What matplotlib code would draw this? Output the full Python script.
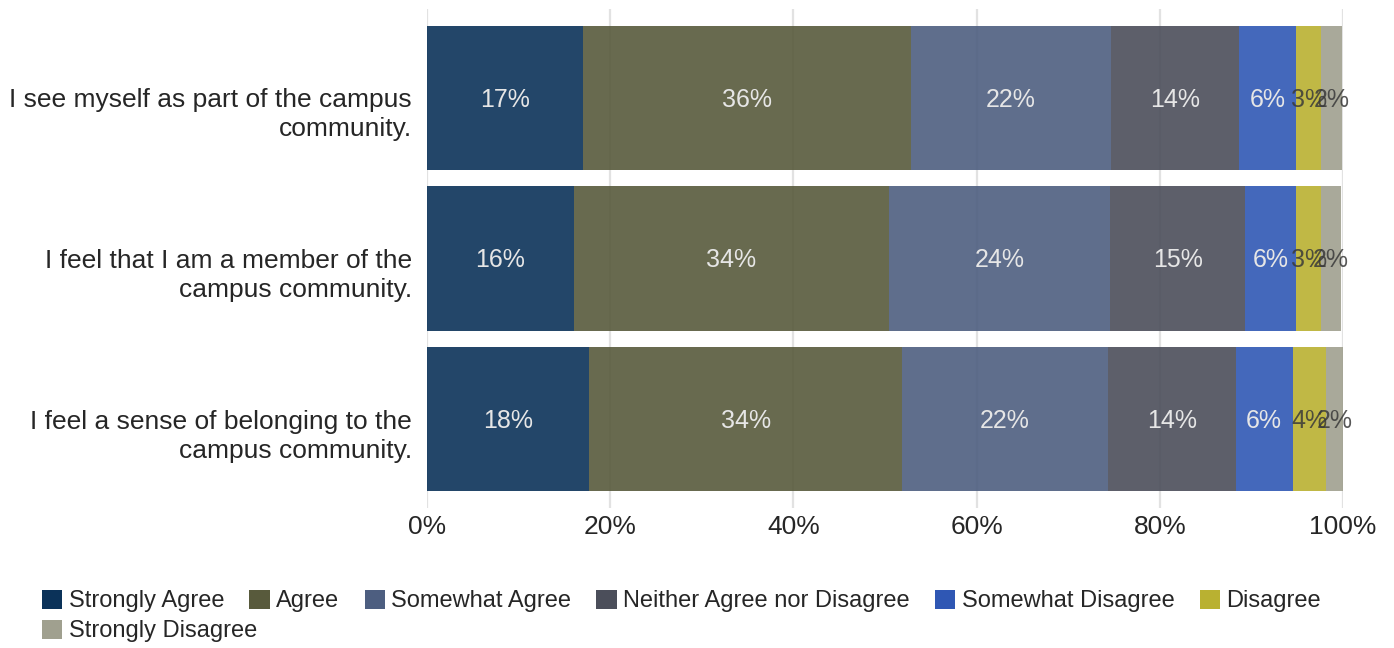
import matplotlib.pyplot as plt
import matplotlib.transforms as mtransforms
from matplotlib.patches import Patch

plt.rcParams['font.family'] = ['Liberation Sans', 'DejaVu Sans']

# Data
statements = [
    "I see myself as part of the campus\ncommunity.",
    "I feel that I am a member of the\ncampus community.",
    "I feel a sense of belonging to the\ncampus community.",
]
responses = [
    "Strongly Agree", "Agree", "Somewhat Agree", "Neither Agree nor Disagree",
    "Somewhat Disagree", "Disagree", "Strongly Disagree",
]
strongly_agree = [17.0, 16.0, 17.7]
agree = [35.8, 34.4, 34.2]
somewhat_agree = [21.9, 24.2, 22.4]
neither = [14.0, 14.7, 14.0]
somewhat_disagree = [6.2, 5.6, 6.2]
disagree = [2.7, 2.7, 3.6]
strongly_disagree = [2.3, 2.2, 1.9]
x_ticks = [0, 20, 40, 60, 80, 100]

series = [strongly_agree, agree, somewhat_agree, neither,
          somewhat_disagree, disagree, strongly_disagree]
colors = ['#0b3259', '#585a3c', '#4d5e80', '#4b4e5a', '#2f57b4', '#b9b131', '#a0a08f']
label_colors = ['#e6e6e6'] * 5 + ['#3a3a3a'] * 2

fig = plt.figure(figsize=(13.94, 6.48), dpi=100)
ax = fig.add_axes([427 / 1394, 1 - 508 / 648, 916 / 1394, 499 / 648])

y = list(range(len(statements)))
left = [0.0] * len(statements)
for vals, col, lcol, name in zip(series, colors, label_colors, responses):
    bars = ax.barh(y, vals, left=left, height=0.9, color=col, alpha=0.9,
                   linewidth=0, zorder=2, label=name)
    for b, v in zip(bars, vals):
        ax.text(b.get_x() + b.get_width() / 2, b.get_y() + b.get_height() / 2 + 0.012,
                f"{round(v)}%", ha='center', va='center', fontsize=18,
                color=lcol, alpha=0.85 if lcol != '#e6e6e6' else 1.0, zorder=3)
    left = [l + v for l, v in zip(left, vals)]

ax.set_xlim(0, 100)
ax.set_ylim(2.553, -0.553)
ax.set_xticks(x_ticks)
ax.set_xticklabels([f"{t}%" for t in x_ticks])
ax.set_yticks(y)
ax.set_yticklabels(statements, linespacing=1.27)
ax.tick_params(axis='x', length=0, pad=5, labelsize=19, labelcolor='#262626')
ax.tick_params(axis='y', length=0, pad=11, labelsize=19, labelcolor='#262626')
ax.grid(axis='x', color='#e2e2e2', linewidth=1.6, zorder=0)
ax.set_axisbelow(True)
for s in ax.spines.values():
    s.set_visible(False)

# first line of each statement sits at the bar centre
offset = mtransforms.ScaledTranslation(0, -0.12, fig.dpi_scale_trans)
for lbl in ax.get_yticklabels():
    lbl.set_transform(lbl.get_transform() + offset)

handles = [Patch(facecolor=c, edgecolor='none') for c in colors]
leg_kw = dict(frameon=False, fontsize=17, handlelength=0.85, handleheight=0.85,
              handletextpad=0.28, columnspacing=1.07, borderpad=0, borderaxespad=0,
              loc='center left', bbox_transform=fig.transFigure)
leg1 = fig.legend(handles[:6], responses[:6], ncol=6,
                  bbox_to_anchor=(42 / 1394, 1 - 601 / 648), **leg_kw)
for t in leg1.get_texts():
    t.set_color('#262626')
leg2 = fig.legend(handles[6:], responses[6:], ncol=1,
                  bbox_to_anchor=(42 / 1394, 1 - 631 / 648), **leg_kw)
for t in leg2.get_texts():
    t.set_color('#262626')

fig.savefig('out.png', dpi=100, facecolor='white')
